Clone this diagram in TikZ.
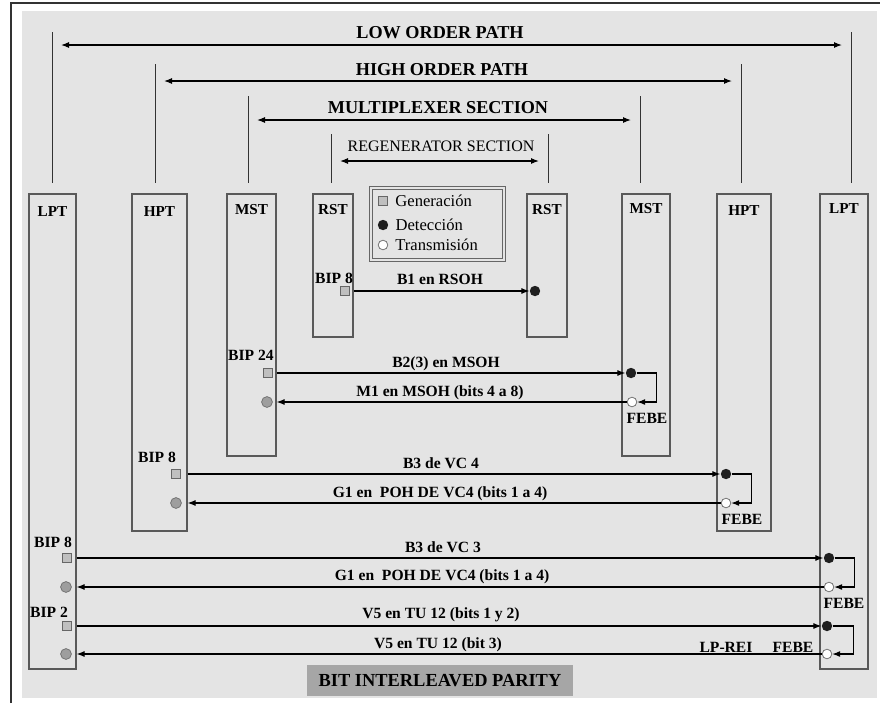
\documentclass[tikz,border=0pt]{standalone}
\usepackage{fontspec}
\setmainfont{Liberation Serif}
\usepackage{xcolor}
\definecolor{panelGrey}{HTML}{E4E4E4}
\colorlet{frameLine}{black!65}
\colorlet{genFill}{black!25}
\colorlet{rxFill}{black!38}
\colorlet{titleFill}{black!35}
\usepackage{tikz}
\usetikzlibrary{arrows.meta, positioning, calc, fit}

\begin{document}
\begin{tikzpicture}[x=0.5pt, y=-0.5pt,
    stationbox/.style={draw=frameLine, line width=0.6pt, inner sep=0pt},
    boxlbl/.style={font=\fontsize{7.6}{9}\selectfont\bfseries, inner sep=1pt},
    heading/.style={font=\fontsize{9.1}{11}\selectfont\bfseries, inner sep=1pt},
    msg/.style={font=\fontsize{7.8}{9}\selectfont\bfseries, inner sep=1pt},
    keytxt/.style={font=\fontsize{8.3}{10}\selectfont, inner sep=1pt},
    gen/.style={draw=black!60, fill=genFill, line width=0.4pt,
      minimum size=4.6pt, inner sep=0pt},
    det/.style={circle, fill=black!88, minimum size=5.2pt, inner sep=0pt},
    tx/.style={circle, draw=black!55, fill=white, line width=0.4pt,
      minimum size=4.8pt, inner sep=0pt},
    rx/.style={circle, draw=black!55, fill=rxFill, line width=0.4pt,
      minimum size=5.4pt, inner sep=0pt},
    tickline/.style={line width=0.5pt, black!80},
    spanarrow/.style={<->, line width=0.55pt, shorten <=4.5pt, shorten >=4.5pt},
    sig/.style={->, line width=0.55pt},
    >={Latex[length=4pt, width=3pt]}
  ]
  % ===== Frame =====
  \useasboundingbox (0,0) rectangle (880,703);
  \fill[white] (0,0) rectangle (880,703);
  \fill[panelGrey] (22,11) rectangle (877,698);
  \draw[line width=0.8pt, black!80] (11,703) -- (11,3) -- (880,3);

  % ===== Spans over the stations =====
  \foreach \x/\t in {52/32, 155/64, 248/96, 331/134, 548/134, 640/96, 741/64, 851/32}
    \draw[tickline] (\x,\t) -- (\x,183);
  \coordinate (loA) at (52,45);   \coordinate (loB) at (851,45);
  \coordinate (hiA) at (155,81);  \coordinate (hiB) at (741,81);
  \coordinate (muA) at (248,120); \coordinate (muB) at (640,120);
  \coordinate (reA) at (331,161); \coordinate (reB) at (548,161);
  \draw[spanarrow] (loA) -- (loB);
  \draw[spanarrow] (hiA) -- (hiB);
  \draw[spanarrow] (muA) -- (muB);
  \draw[spanarrow] (reA) -- (reB);
  \node[heading] (lowTxt)  at (440,33)  {LOW ORDER PATH};
  \node[heading] (highTxt) at (442,70)  {HIGH ORDER PATH};
  \node[heading] (muxTxt)  at (438,108) {MULTIPLEXER SECTION};
  \node[font=\fontsize{8}{10}\selectfont, inner sep=1pt] (regTxt) at (441,146) {REGENERATOR SECTION};

  % ===== Stations =====
  \node[stationbox, fit={(29,194)(76,669)},
    label={[boxlbl, anchor=north, yshift=-5.5pt]north:LPT}] (lptL) {};
  \node[stationbox, fit={(132,194)(187,531)},
    label={[boxlbl, anchor=north, yshift=-5.5pt]north:HPT}] (hptL) {};
  \node[stationbox, fit={(227,194)(276,456)},
    label={[boxlbl, anchor=north, yshift=-4.5pt]north:MST}] (mstL) {};
  \node[stationbox, fit={(313,194)(353,337)},
    label={[boxlbl, anchor=north, yshift=-4.5pt]north:RST}] (rstL) {};
  \node[stationbox, fit={(527,194)(567,337)},
    label={[boxlbl, anchor=north, yshift=-4.5pt]north:RST}] (rstR) {};
  \node[stationbox, fit={(622,194)(670,456)},
    label={[boxlbl, anchor=north, yshift=-4pt]north:MST}] (mstR) {};
  \node[stationbox, fit={(717,194)(771,531)},
    label={[boxlbl, anchor=north, yshift=-5pt]north:HPT}] (hptR) {};
  \node[stationbox, fit={(820,194)(868,669)},
    label={[boxlbl, anchor=north, yshift=-4pt]north:LPT}] (lptR) {};

  % ===== Key =====
  \node[draw=black!60, double=panelGrey, double distance=1pt, line width=0.5pt,
    inner sep=0pt, fit={(371,188)(504,260)}] (key) {};
  \node[gen] (keyGen) at (383,201) {};
  \node[det] (keyDet) at (383,225) {};
  \node[tx]  (keyTx)  at (383,245) {};
  \node[keytxt, right=2.5pt of keyGen] (keyGenTxt) {Generación};
  \node[keytxt, right=2.3pt of keyDet] (keyDetTxt) {Detección};
  \node[keytxt, right=2.4pt of keyTx]  (keyTxTxt)  {Transmisión};

  % ===== Regenerator section =====
  \node[gen] (g1) at (345,291) {};
  \node[det] (d1) at (535,291) {};
  \node[msg] (bipRs) at (334,278) {BIP 8};
  \draw[sig] (rstL.east |- g1) -- (d1);
  \node[msg] at (440,279) {B1 en RSOH};

  % ===== Multiplexer section =====
  \node[gen] (g2) at (268,373) {};
  \node[det] (d2) at (631,373) {};
  \node[rx]  (r2) at (267,402) {};
  \node[tx]  (t2) at (632,402) {};
  \node[msg] (bipMs) at (251,355) {BIP 24};
  \draw[sig] (mstL.east |- g2) -- (d2);
  \draw[sig] (t2) -- (mstL.east |- r2);
  \draw[sig] (d2.east) -- ++(20,0) |- (t2.east);
  \node[msg] at (446,364) {B2(3) en MSOH};
  \node[msg] at (440,393) {M1 en MSOH (bits 4 a 8)};
  \node[msg] (febeMs) at (647,418) {FEBE};

  % ===== High order path =====
  \node[gen] (g3) at (176,474) {};
  \node[det] (d3) at (726,474) {};
  \node[rx]  (r3) at (176,503) {};
  \node[tx]  (t3) at (726,503) {};
  \node[msg] (bipHp) at (157,457) {BIP 8};
  \draw[sig] (hptL.east |- g3) -- (d3);
  \draw[sig] (t3) -- (hptL.east |- r3);
  \draw[sig] (d3.east) -- ++(20,0) |- (t3.east);
  \node[msg] at (441,463) {B3 de VC 4};
  \node[msg] at (440,494) {G1 en\ \ POH DE VC4 (bits 1 a 4)};
  \node[msg] (febeHp) at (742,519) {FEBE};

  % ===== Low order path =====
  \node[gen] (g4) at (67,558) {};
  \node[det] (d4) at (829,558) {};
  \node[rx]  (r4) at (66,587) {};
  \node[tx]  (t4) at (829,587) {};
  \node[msg] (bipLp) at (53,542) {BIP 8};
  \draw[sig] (lptL.east |- g4) -- (d4);
  \draw[sig] (t4) -- (lptL.east |- r4);
  \draw[sig] (d4.east) -- ++(20,0) |- (t4.east);
  \node[msg] at (443,547) {B3 de VC 3};
  \node[msg] at (442,577) {G1 en\ \ POH DE VC4 (bits 1 a 4)};
  \node[msg] (febeLp) at (844,603) {FEBE};

  \node[gen] (g5) at (67,626) {};
  \node[det] (d5) at (827,626) {};
  \node[rx]  (r5) at (66,654) {};
  \node[tx]  (t5) at (827,654) {};
  \node[msg] (bipVt) at (49,612) {BIP 2};
  \draw[sig] (lptL.east |- g5) -- (d5);
  \draw[sig] (t5) -- (lptL.east |- r5);
  \draw[sig] (d5.east) -- ++(21,0) |- (t5.east);
  \node[msg] at (441,615) {V5 en TU 12 (bits 1 y 2)};
  \node[msg] at (438,645) {V5 en TU 12 (bit 3)};
  \node[msg] (lpRei) at (726,647) {LP-REI};
  \node[msg] (febeVt) at (793,647) {FEBE};

  % ===== Caption =====
  \node[fill=titleFill, minimum width=133pt, minimum height=15.5pt, inner sep=0pt,
    font=\fontsize{9.2}{11}\selectfont\bfseries] (bipTitle) at (440,680.5)
    {BIT INTERLEAVED PARITY};
\end{tikzpicture}
\end{document}
